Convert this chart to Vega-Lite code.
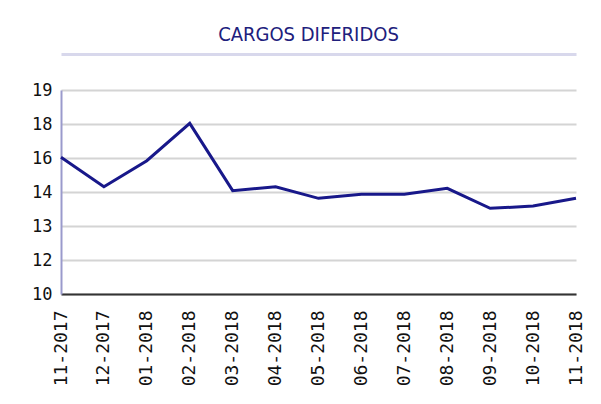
{
  "$schema": "https://vega.github.io/schema/vega-lite/v6.json",
  "width": 515,
  "height": 204,
  "autosize": "none",
  "padding": {"left": 61, "top": 90, "right": 25, "bottom": 110},
  "background": "white",
  "config": {"view": {"stroke": null}},
  "title": {
    "text": "CARGOS DIFERIDOS",
    "anchor": "middle",
    "font": "DejaVu Sans Condensed, DejaVu Sans",
    "fontSize": 20,
    "fontWeight": "normal",
    "color": "#20207c",
    "offset": 9,
    "dx": -10
  },
  "data": {
    "values": [
      {"mes": "11-2017", "valor": 16.03},
      {"mes": "12-2017", "valor": 14.73},
      {"mes": "01-2018", "valor": 15.88},
      {"mes": "02-2018", "valor": 17.53},
      {"mes": "03-2018", "valor": 14.56},
      {"mes": "04-2018", "valor": 14.73},
      {"mes": "05-2018", "valor": 14.22},
      {"mes": "06-2018", "valor": 14.4},
      {"mes": "07-2018", "valor": 14.4},
      {"mes": "08-2018", "valor": 14.66},
      {"mes": "09-2018", "valor": 13.78},
      {"mes": "10-2018", "valor": 13.88},
      {"mes": "11-2018", "valor": 14.22}
    ]
  },
  "layer": [
    {
      "mark": {"type": "line", "color": "#18188a", "strokeWidth": 3},
      "encoding": {
        "x": {
          "field": "mes",
          "type": "ordinal",
          "sort": null,
          "scale": {"type": "point", "padding": 0},
          "axis": {
            "orient": "bottom",
            "title": null,
            "labelAngle": -90,
            "labelFont": "DejaVu Sans Mono",
            "labelFontSize": 18,
            "labelColor": "#111",
            "labelPadding": 16,
            "ticks": false,
            "grid": false,
            "domainColor": "#333",
            "domainWidth": 2
          }
        },
        "y": {
          "field": "valor",
          "type": "quantitative",
          "scale": {"domain": [10, 19], "nice": false, "zero": false},
          "axis": {
            "title": null,
            "values": [10, 11.5, 13, 14.5, 16, 17.5, 19],
            "labelExpr": "datum.value == 11.5 ? '12' : datum.value == 14.5 ? '14' : datum.value == 17.5 ? '18' : '' + datum.value",
            "labelOverlap": false,
            "labelFont": "DejaVu Sans Mono",
            "labelFontSize": 17,
            "labelColor": "#111",
            "labelPadding": 9,
            "ticks": false,
            "domainColor": "#9a9acc",
            "domainWidth": 2,
            "gridColor": "#d4d4d4",
            "gridWidth": 2
          }
        }
      }
    },
    {
      "mark": {"type": "rule", "opacity": 0},
      "encoding": {
        "x": {
          "field": "mes",
          "type": "ordinal",
          "sort": null,
          "axis": {
            "orient": "top",
            "offset": 36,
            "title": null,
            "labels": false,
            "ticks": false,
            "grid": false,
            "domainColor": "#d8d8ec",
            "domainWidth": 3
          }
        }
      }
    }
  ],
  "resolve": {"axis": {"x": "independent"}}
}
